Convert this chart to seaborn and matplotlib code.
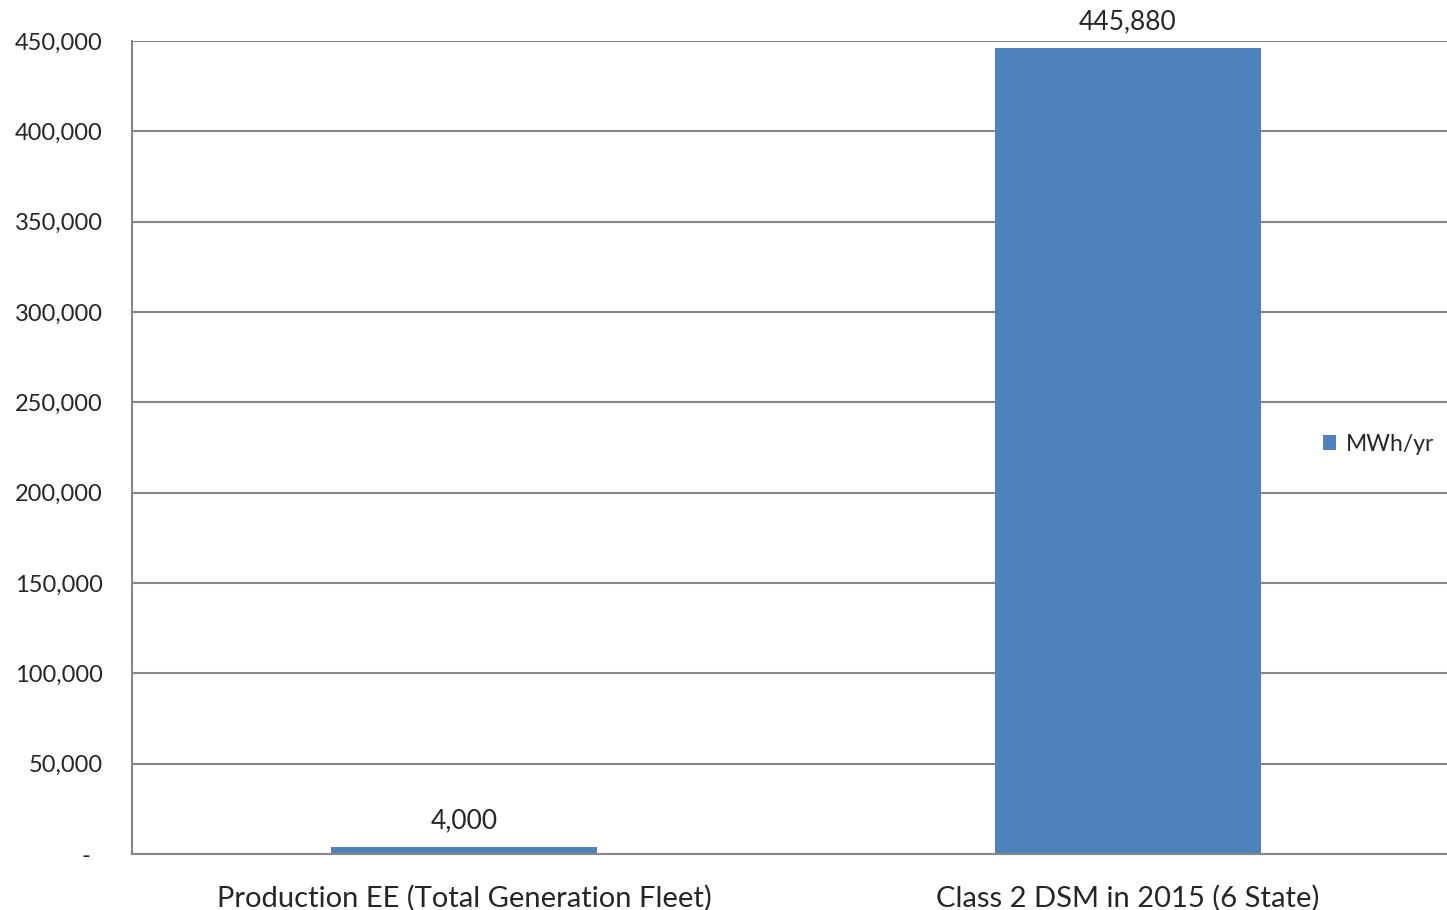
import numpy as np
import pandas as pd
import matplotlib
matplotlib.use("Agg")
import matplotlib.pyplot as plt
import seaborn as sns
from matplotlib.ticker import FuncFormatter, MultipleLocator

# Data
categories = ["Production EE (Total Generation Fleet)", "Class 2 DSM in 2015 (6 State)"]
values = [4000, 445880]
series_name = "MWh/yr"

df = pd.DataFrame({"category": categories, "value": values, "series": series_name})

sns.set_style("white")
plt.rcParams['font.family'] = ['Lato', 'DejaVu Sans']

fig = plt.figure(figsize=(14.47, 9.10), dpi=100)
# plot area runs a little past the right edge of the picture
ax = fig.add_axes([0.0912, 0.0615, 0.9178, 0.8934])

sns.barplot(data=df, x="category", y="value", hue="series", palette=["#4F81BD"],
            width=0.40, ax=ax, saturation=1, linewidth=0, edgecolor="none")

ax.set_xlim(-0.5, 1.5)
ax.set_ylim(0, 450000)
ax.yaxis.set_major_locator(MultipleLocator(50000))
ax.yaxis.set_major_formatter(FuncFormatter(lambda v, p: "-  " if v == 0 else f"{v:,.0f}"))
ax.grid(axis="y", color="#868686", linewidth=1.5)
ax.set_axisbelow(True)

for side in ["top", "right"]:
    ax.spines[side].set_visible(False)
ax.spines["left"].set_color("#868686")
ax.spines["bottom"].set_color("#868686")
ax.spines["left"].set_linewidth(1.5)
ax.spines["bottom"].set_linewidth(1.5)

ax.tick_params(axis="y", length=8, width=1.5, color="#868686", labelsize=17, pad=13)
ax.tick_params(axis="x", length=0, labelsize=21, pad=22)
ax.set_xlabel("")
ax.set_ylabel("")

for c in ax.containers:
    ax.bar_label(c, labels=[f"{v:,.0f}" for v in values], padding=10, fontsize=19)

ax.legend(loc="center left", bbox_to_anchor=(0.881, 0.504), frameon=False, fontsize=16.5,
          handlelength=0.6, handleheight=0.6, handletextpad=0.4)

fig.savefig("out.png", dpi=100)
